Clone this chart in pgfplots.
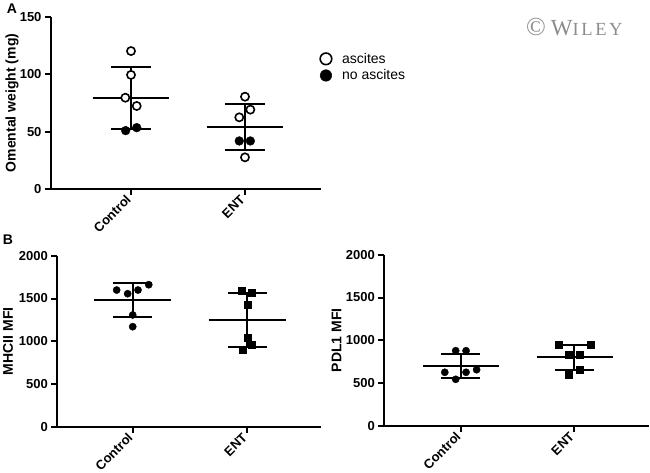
\documentclass[border=0pt]{standalone}
\usepackage{fontspec}
\setmainfont{Liberation Sans}
\newfontfamily\wileyfont{Liberation Serif}
\usepackage{pgfplots}
\pgfplotsset{compat=1.18}
\pgfplotsset{
 gp/.style={
  scale only axis,
  axis lines=left,
  axis line style={-, line width=2pt},
  tick style={black, line width=2pt},
  tick align=outside,
  major tick length=6pt,
  xtick={0,1},
  xticklabels={Control,ENT},
  ymin=0,
  ticklabel style={font=\fontsize{13}{13}\selectfont\bfseries},
  xticklabel style={rotate=45, anchor=east},
  /pgf/number format/assume math mode=true,
  /pgf/number format/1000 sep={},
  label style={font=\fontsize{14}{14}\selectfont\bfseries},
  clip=false,
 },
 sd/.style={black, line width=2pt, mark=none, forget plot},
 opn/.style={only marks, mark=*, mark options={fill=white, draw=black, line width=1.6pt}, mark size=4.1pt},
 fld/.style={only marks, mark=*, mark options={fill=black, draw=black}, mark size=4.4pt},
 dot/.style={only marks, mark=*, mark options={fill=black, draw=black}, mark size=3.6pt, forget plot},
 sq/.style={only marks, mark=square*, mark options={fill=black, draw=black}, mark size=3.5pt, forget plot},
}
\begin{document}
\begin{tikzpicture}[x=1pt,y=1pt]
\useasboundingbox (0,0) rectangle (650,473);
% Panel A
\begin{axis}[gp, at={(51pt,284pt)}, anchor=south west, width=270pt, height=172pt,
  xmin=-0.702, xmax=1.667, ymax=150, ytick={0,50,100,150},
  ylabel={Omental weight (mg)}, ylabel style={at={(axis description cs:-0.144,0.5)}, anchor=center},
  legend style={at={(axis description cs:0.985,0.815)}, anchor=north west, draw=none, fill=none,
    font=\fontsize{14}{14}\selectfont, row sep=1pt},
  legend cell align=left,
  legend image code/.code={\path (-2pt,0pt) (14pt,0pt); \draw[#1, mark size=5.8pt] plot coordinates {(0pt,0pt)};}]
\addplot[sd] coordinates {(-0.336,79.4) (0.336,79.4)};
\addplot[sd] coordinates {(0,52.3) (0,106.1)};
\addplot[sd] coordinates {(-0.174,106.1) (0.174,106.1)};
\addplot[sd] coordinates {(-0.174,52.3) (0.174,52.3)};
\addplot[sd] coordinates {(0.664,54.1) (1.336,54.1)};
\addplot[sd] coordinates {(1,33.7) (1,73.9)};
\addplot[sd] coordinates {(0.826,73.9) (1.174,73.9)};
\addplot[sd] coordinates {(0.826,33.7) (1.174,33.7)};
\addplot[opn] coordinates {(0,120.3) (0,99.5) (-0.05,79.6) (0.05,72.4)};
\addlegendentry{ascites}
\addplot[fld] coordinates {(-0.047,50.9) (0.05,53.5)};
\addlegendentry{no ascites}
\addplot[opn, forget plot] coordinates {(1,80.5) (1.047,69.2) (0.95,62.5) (1,27.6)};
\addplot[fld, forget plot] coordinates {(0.95,41.9) (1.047,41.9)};
\end{axis}
% Panel B left
\begin{axis}[gp, at={(57.3pt,46pt)}, anchor=south west, width=263.7pt, height=171.3pt,
  xmin=-0.658, xmax=1.643, ymax=2000, ytick={0,500,1000,1500,2000},
  ylabel={MHCII MFI}, ylabel style={at={(axis description cs:-0.187,0.5)}, anchor=center}]
\addplot[sd] coordinates {(-0.335,1479) (0.335,1479)};
\addplot[sd] coordinates {(0,1281) (0,1681)};
\addplot[sd] coordinates {(-0.17,1681) (0.17,1681)};
\addplot[sd] coordinates {(-0.17,1281) (0.17,1281)};
\addplot[sd] coordinates {(0.665,1249) (1.335,1249)};
\addplot[sd] coordinates {(1,937) (1,1561)};
\addplot[sd] coordinates {(0.83,1561) (1.17,1561)};
\addplot[sd] coordinates {(0.83,937) (1.17,937)};
\addplot[dot] coordinates {(-0.14,1599) (-0.044,1556) (0.046,1599) (0.14,1661) (0,1308) (0,1171)};
\addplot[sq] coordinates {(0.955,1588) (1.041,1565) (1,1424) (1,1047) (1.041,966) (0.961,899)};
\end{axis}
% Panel B right
\begin{axis}[gp, at={(384.3pt,47pt)}, anchor=south west, width=264.7pt, height=171.3pt,
  xmin=-0.672, xmax=1.656, ymax=2000, ytick={0,500,1000,1500,2000},
  ylabel={PDL1 MFI}, ylabel style={at={(axis description cs:-0.18,0.5)}, anchor=center}]
\addplot[sd] coordinates {(-0.334,704) (0.334,704)};
\addplot[sd] coordinates {(0,564) (0,844)};
\addplot[sd] coordinates {(-0.17,844) (0.17,844)};
\addplot[sd] coordinates {(-0.17,564) (0.17,564)};
\addplot[sd] coordinates {(0.667,806) (1.335,806)};
\addplot[sd] coordinates {(1,657) (1,946)};
\addplot[sd] coordinates {(0.83,946) (1.174,946)};
\addplot[sd] coordinates {(0.83,657) (1.174,657)};
\addplot[dot] coordinates {(-0.044,879) (0.047,879) (-0.14,627) (0.047,627) (0.14,657) (-0.044,545)};
\addplot[sq] coordinates {(0.86,949) (1.14,946) (0.953,837) (1.047,837) (0.953,604) (1.047,654)};
\end{axis}
\node[font=\fontsize{14}{14}\selectfont\bfseries] at (12,464) {A};
\node[font=\fontsize{14}{14}\selectfont\bfseries] at (8,233) {B};
\node[anchor=west, text=black!45, inner sep=0pt] at (526,446)
  {\wileyfont\fontsize{26}{26}\selectfont ©\hspace{5pt}\addfontfeature{LetterSpace=14}\fontsize{23}{23}\selectfont W\fontsize{18.5}{18.5}\selectfont ILEY};
\end{tikzpicture}
\end{document}
